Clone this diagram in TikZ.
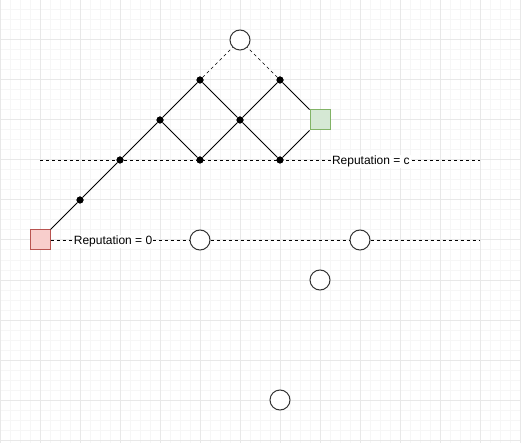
\documentclass[tikz,border=0pt]{standalone}
\usepackage{fontspec}
\setmainfont{Liberation Sans}
\definecolor{gridminor}{HTML}{F6F6F6}
\definecolor{gridmajor}{HTML}{E8E8E8}
\definecolor{redfill}{HTML}{F8CECC}
\definecolor{redline}{HTML}{B85450}
\definecolor{greenfill}{HTML}{D5E8D4}
\definecolor{greenline}{HTML}{82B366}
\definecolor{ink}{HTML}{333333}
\begin{document}
\begin{tikzpicture}[x=1pt,y=-1pt,
  dotnode/.style={circle,fill=black,draw=none,minimum size=7pt,inner sep=0pt},
  ring/.style={circle,draw=ink,fill=white,line width=1pt,minimum size=20pt,inner sep=0pt},
  redbox/.style={rectangle,draw=redline,fill=redfill,line width=1pt,minimum size=20pt,inner sep=0pt},
  greenbox/.style={rectangle,draw=greenline,fill=greenfill,line width=1pt,minimum size=20pt,inner sep=0pt},
  link/.style={draw=black,line width=0.8pt},
  dashlink/.style={draw=black,line width=0.8pt,dash pattern=on 3pt off 3pt},
  thindash/.style={draw=black,line width=0.6pt,dash pattern=on 3pt off 3pt},
  lbl/.style={fill=white,inner sep=1pt,yshift=-1.5pt,font=\fontsize{12}{14}\selectfont}
]
\useasboundingbox (0,0) rectangle (521,443);
\fill[white] (0,0) rectangle (521,443);
% grid
\foreach \i in {0,10,...,520} \draw[gridminor,line width=1pt] (\i,0) -- (\i,443);
\foreach \j in {0,10,...,440} \draw[gridminor,line width=1pt] (0,\j) -- (521,\j);
\foreach \i in {0,40,...,520} \draw[gridmajor,line width=1pt] (\i,0) -- (\i,443);
\foreach \j in {0,40,...,440} \draw[gridmajor,line width=1pt] (0,\j) -- (521,\j);

% coordinates for free ends
\coordinate (hl1) at (40,160);
\coordinate (hl2) at (480,160);
\coordinate (hb2) at (480,240);

% dashed horizontal at y=160
\draw[dashlink] (hl1) -- (hl2) node[lbl,pos=0.752] {Reputation = c};

% nodes
\node[ring] (top) at (240,40) {};
\node[dotnode] (a) at (200,80) {};
\node[dotnode] (b) at (280,80) {};
\node[dotnode] (c) at (160,120) {};
\node[dotnode] (d) at (240,120) {};
\node[dotnode] (e) at (120,160) {};
\node[dotnode] (f) at (200,160) {};
\node[dotnode] (g) at (280,160) {};
\node[dotnode] (h) at (80,200) {};
\node[greenbox] (win) at (320,120) {};
\node[redbox] (lose) at (40,240) {};
\node[ring] (o1) at (200,240) {};
\node[ring] (o2) at (360,240) {};
\node[ring] (o3) at (320,280) {};
\node[ring] (o4) at (280,400) {};

% bottom dashed line
\draw[dashlink] (lose) -- (o1) node[lbl,pos=0.45] {Reputation = 0};
\draw[dashlink] (o1) -- (o2);
\draw[dashlink] (o2) -- (hb2);

% lattice
\draw[link] (lose.north east) -- (h);
\draw[link] (h) -- (e);
\draw[link] (e) -- (c);
\draw[link] (c) -- (a);
\draw[link] (c) -- (f);
\draw[link] (a) -- (d);
\draw[link] (f) -- (d);
\draw[link] (d) -- (b);
\draw[link] (d) -- (g);
\draw[link] (b) -- (win.north west);
\draw[link] (g) -- (win.south west);
\draw[thindash] (a) -- (top);
\draw[thindash] (b) -- (top);

% redraw dots on top
\foreach \n in {a,b,c,d,e,f,g,h} \fill[black] (\n) circle (3.5pt);
\end{tikzpicture}
\end{document}
